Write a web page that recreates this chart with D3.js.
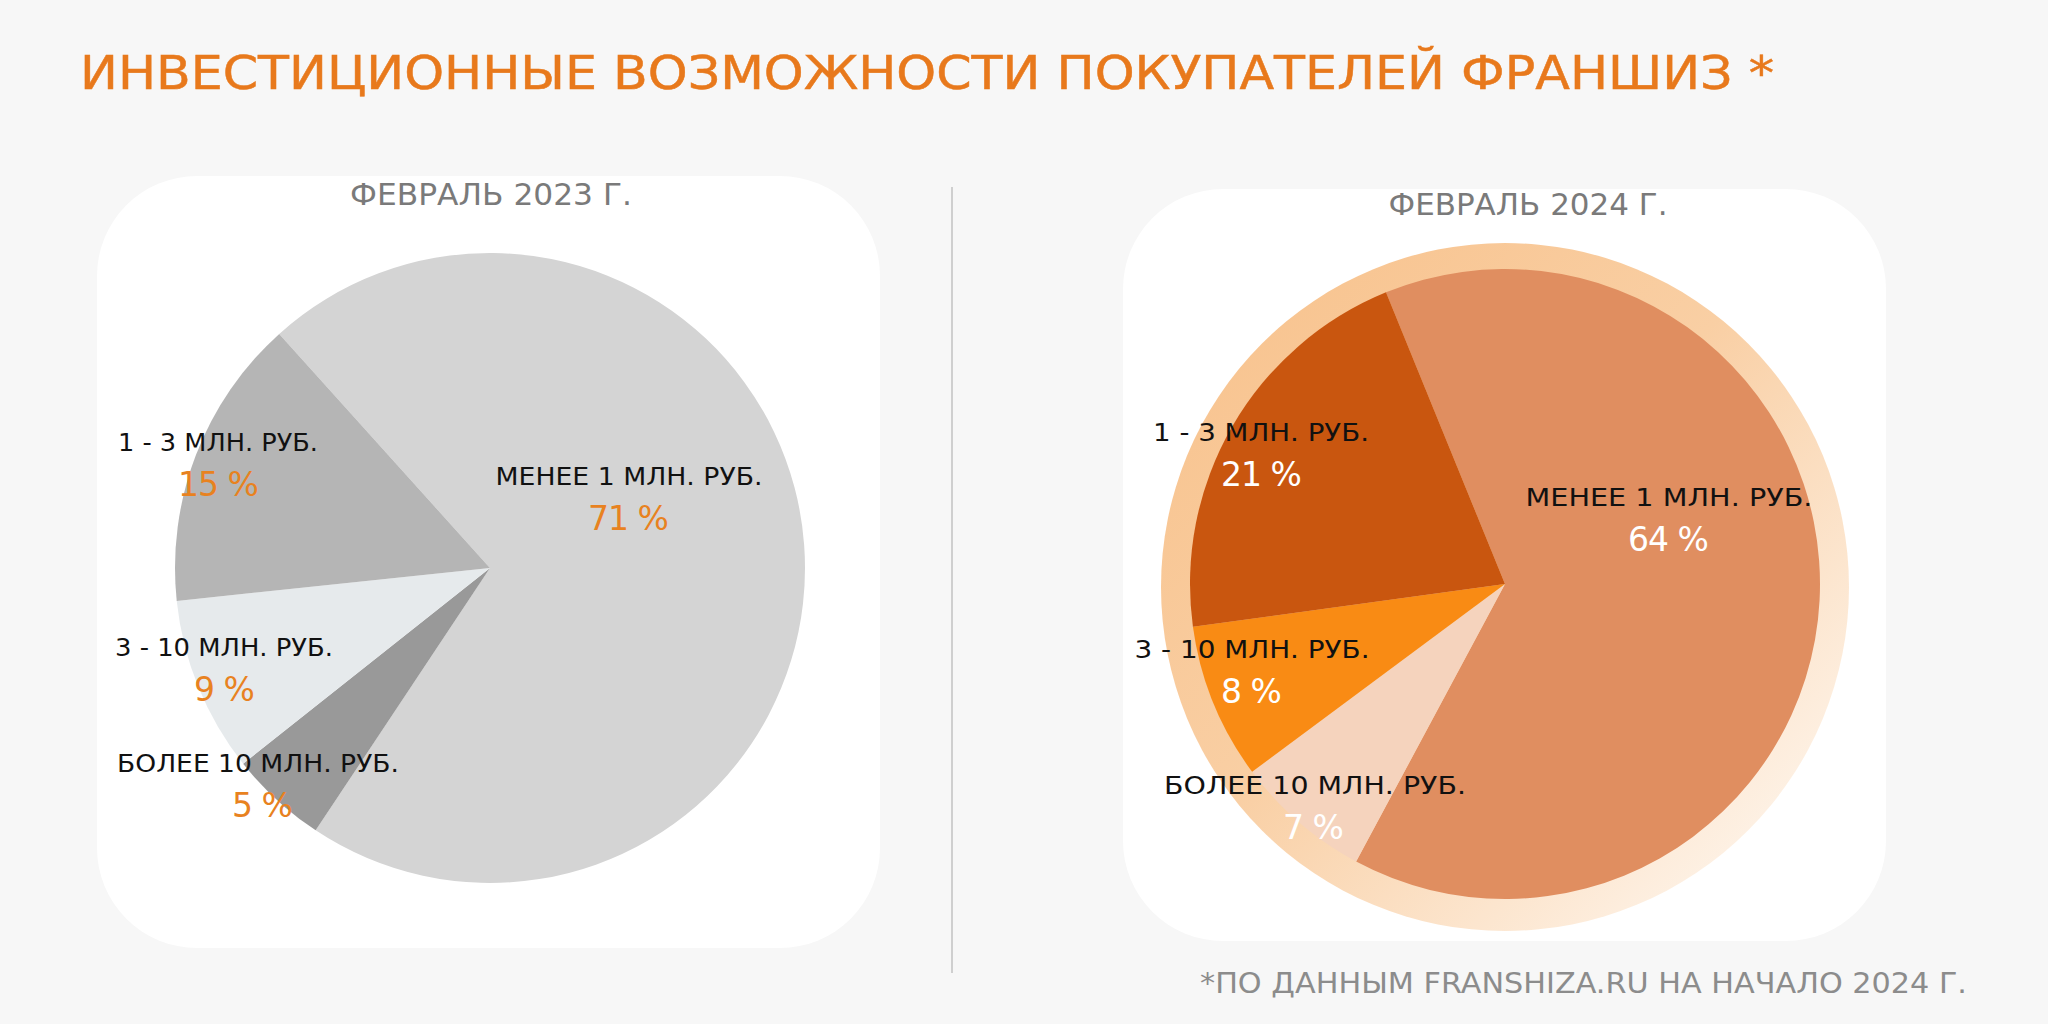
<!DOCTYPE html>
<html><head><meta charset="utf-8">
<script src="https://cdn.jsdelivr.net/npm/d3@7"></script>
<style>html,body{margin:0;padding:0;background:#f7f7f7;}svg{display:block;}</style>
</head><body>
<svg id="chart" width="2048" height="1024"></svg>
<script>
// ---- data ----
const titleText = "ИНВЕСТИЦИОННЫЕ ВОЗМОЖНОСТИ ПОКУПАТЕЛЕЙ ФРАНШИЗ *";
const footnoteText = "*ПО ДАННЫМ FRANSHIZA.RU НА НАЧАЛО 2024 Г.";
const categories = ["МЕНЕЕ 1 МЛН. РУБ.", "БОЛЕЕ 10 МЛН. РУБ.", "3 - 10 МЛН. РУБ.", "1 - 3 МЛН. РУБ."];
const periods = ["ФЕВРАЛЬ 2023 Г.", "ФЕВРАЛЬ 2024 Г."];
const values2023 = [71, 5, 9, 15];
const values2024 = [64, 7, 8, 21];

// ---- layout / style ----
const FONT = "'DejaVu Sans', sans-serif";
const svg = d3.select("#chart");
svg.append("rect").attr("width", 2048).attr("height", 1024).attr("fill", "#f7f7f7");

const defs = svg.append("defs");
const grad = defs.append("linearGradient").attr("id", "ringGrad")
  .attr("x1", "10%").attr("y1", "10%").attr("x2", "90%").attr("y2", "90%");
grad.append("stop").attr("offset", "0%").attr("stop-color", "#f8c490");
grad.append("stop").attr("offset", "45%").attr("stop-color", "#f9cfa4");
grad.append("stop").attr("offset", "100%").attr("stop-color", "#fef4ea");

function fit(sel, w) {
  sel.attr("textLength", w).attr("lengthAdjust", "spacingAndGlyphs");
}

svg.append("text").attr("x", 80).attr("y", 89)
  .attr("font-family", FONT).attr("font-size", 46)
  .attr("fill", "#e8791c").attr("stroke", "#e8791c").attr("stroke-width", 0.5)
  .text(titleText).call(fit, 1694);

svg.append("line").attr("x1", 952).attr("x2", 952).attr("y1", 187).attr("y2", 973)
  .attr("stroke", "#cfcfcf").attr("stroke-width", 2);

svg.append("text").attr("x", 1967).attr("y", 993).attr("text-anchor", "end")
  .attr("font-family", FONT).attr("font-size", 29).attr("fill", "#8c8c8c")
  .text(footnoteText).call(fit, 767);

const charts = [
  {
    values: values2023, period: periods[0],
    panel: {x: 97, y: 176, w: 783, h: 772},
    cx: 490, cy: 568, r: 315, startDeg: -42,
    colors: ["#d4d4d4", "#999999", "#e6eaec", "#b5b5b5"],
    pctColor: "#e8821f",
    titlePos: [491, 205], titleW: 282,
    labels: [ {dx: 139, dy: -83, w: 267, pdx: 138},
              {dx: -232, dy: 204, w: 282, pdx: -228},
              {dx: -266, dy: 88, w: 218, pdx: -266},
              {dx: -272, dy: -117, w: 200, pdx: -272} ],
    ring: null
  },
  {
    values: values2024, period: periods[1],
    panel: {x: 1123, y: 189, w: 763, h: 752},
    cx: 1505, cy: 584, r: 315, startDeg: -22.2,
    colors: ["#e08e60", "#f5d3bd", "#f98b14", "#c9560f"],
    pctColor: "#ffffff",
    titlePos: [1528, 215], titleW: 279,
    labels: [ {dx: 164, dy: -78, w: 287, pdx: 163},
              {dx: -190, dy: 210, w: 302, pdx: -192},
              {dx: -253, dy: 74, w: 235, pdx: -254},
              {dx: -244, dy: -143.5, w: 216, pdx: -244} ],
    ring: {dy: 3, r: 344}
  }
];

charts.forEach(c => {
  const g = svg.append("g");
  g.append("rect").attr("x", c.panel.x).attr("y", c.panel.y)
    .attr("width", c.panel.w).attr("height", c.panel.h)
    .attr("rx", 100).attr("ry", 100).attr("fill", "#ffffff");

  g.append("text").attr("x", c.titlePos[0]).attr("y", c.titlePos[1])
    .attr("text-anchor", "middle").attr("font-family", FONT)
    .attr("font-size", 30).attr("fill", "#7a7a7a").text(c.period).call(fit, c.titleW);

  if (c.ring) {
    g.append("circle").attr("cx", c.cx).attr("cy", c.cy + c.ring.dy).attr("r", c.ring.r)
      .attr("fill", "url(#ringGrad)");
  }

  const s = c.startDeg * Math.PI / 180;
  const pie = d3.pie().sort(null).value(d => d)
    .startAngle(s).endAngle(s + 2 * Math.PI);
  const arc = d3.arc().innerRadius(0).outerRadius(c.r);
  const arcs = pie(c.values);

  const pg = g.append("g").attr("transform", `translate(${c.cx},${c.cy})`);
  pg.selectAll("path").data(arcs).join("path")
    .attr("d", arc).attr("fill", (d, i) => c.colors[i]);

  const lg = pg.selectAll("g.lab").data(arcs).join("g").attr("class", "lab");
  lg.append("text")
    .attr("x", (d, i) => c.labels[i].dx).attr("y", (d, i) => c.labels[i].dy)
    .attr("text-anchor", "middle").attr("font-family", FONT)
    .attr("font-size", 25).attr("fill", "#111111")
    .text((d, i) => categories[i])
    .each(function(d, i) { d3.select(this).call(fit, c.labels[i].w); });
  lg.append("text")
    .attr("x", (d, i) => c.labels[i].pdx).attr("y", (d, i) => c.labels[i].dy + 45)
    .attr("text-anchor", "middle").attr("font-family", FONT)
    .attr("font-size", 33).attr("fill", c.pctColor)
    .attr("letter-spacing", -1)
    .text(d => d.data + " %");
});
</script>
</body></html>
